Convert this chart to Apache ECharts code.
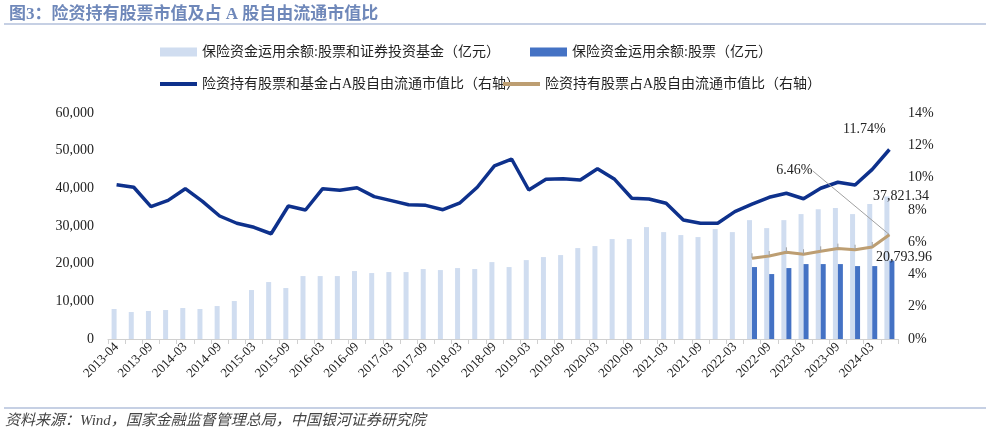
<!DOCTYPE html>
<html><head><meta charset="utf-8">
<script src="https://cdn.jsdelivr.net/npm/echarts@6/dist/echarts.min.js"></script>
<style>html,body{margin:0;padding:0;background:#fff}#c{width:990px;height:433px}</style>
</head><body><div id="c"></div>
<script>
// quarterly categories (first labelled as in source)
const categories = (function(){
  const out = ["2013-04"]; const ms=["03","06","09","12"];
  for (let y=2013;y<=2024;y++) for (const m of ms){ if(y===2013&&(m==="03")) continue; if(y===2024&&(m==="09"||m==="12")) continue; out.push(y+"-"+m); }
  return out;
})();
const stocksAndFunds = [7960,7160,7430,7690,8220,7960,8750,10080,13000,15120,13530,16710,16710,16710,18040,17510,17770,17770,18570,18300,18830,18570,20420,
  19100,20950,21750,22280,24140,24670,26530,26530,29710,28380,27590,27060,29180,28380,31560,29440,31560,33160,34480,34750,33160,35810,37821.34];
const stocksOnly = [null,null,null,null,null,null,null,null,null,null,null,null,null,null,null,null,null,null,null,null,null,null,null,null,null,null,null,null,null,null,null,null,null,null,null,null,null,
  19100,17240,18830,19890,19890,19890,19360,19360,20793.96];
const ratioStocksFunds = [9.56,9.40,8.20,8.59,9.31,8.53,7.62,7.17,6.92,6.52,8.24,7.99,9.31,9.21,9.37,8.82,8.57,8.32,8.28,8.01,8.44,9.40,10.72,
  11.15,9.23,9.89,9.93,9.85,10.55,9.89,8.72,8.67,8.41,7.37,7.17,7.17,7.89,8.35,8.78,9.03,8.69,9.34,9.71,9.54,10.51,11.74];
const ratioStocks = [null,null,null,null,null,null,null,null,null,null,null,null,null,null,null,null,null,null,null,null,null,null,null,null,null,null,null,null,null,null,null,null,null,null,null,null,null,
  5.00,5.14,5.37,5.25,5.43,5.60,5.53,5.70,6.46];
const names = ["保险资金运用余额:股票和证券投资基金（亿元）","保险资金运用余额:股票（亿元）","险资持有股票和基金占A股自由流通市值比（右轴）","险资持有股票占A股自由流通市值比（右轴）"];
const leftTicks = [0,10000,20000,30000,40000,50000,60000];

const serif = "'Liberation Serif','DejaVu Serif','Noto Sans CJK SC',serif";
const last = categories.length-1;
const fmtNum = v => v.toLocaleString('en-US',{minimumFractionDigits:2,maximumFractionDigits:2});
const chart = echarts.init(document.getElementById('c'));
const legendBase = {itemWidth:37,itemHeight:9,textStyle:{fontFamily:serif,fontSize:14,color:'#222'}};
chart.setOption({
  animation:false,
  textStyle:{fontFamily:serif},
  title:{text:'图3：险资持有股票市值及占 A 股自由流通市值比',left:4,top:1,textStyle:{fontFamily:serif,fontSize:17,fontWeight:'bold',color:'#6f88ba'}},
  graphic:[
    {type:'line',shape:{x1:4,y1:24,x2:986,y2:24},style:{stroke:'#8ea2c9',lineWidth:1.2}},
    {type:'line',shape:{x1:4,y1:408,x2:986,y2:408},style:{stroke:'#8ea2c9',lineWidth:1.2}},
    {type:'text',left:5,top:414,style:{text:'资料来源：Wind，国家金融监督管理总局，中国银河证券研究院',font:"italic 15px "+serif,fill:'#444'}}
  ],
  legend:[
    Object.assign({},legendBase,{left:155,top:40,data:[{name:names[0],icon:'rect'}]}),
    Object.assign({},legendBase,{left:525,top:40,data:[{name:names[1],icon:'rect'}]}),
    Object.assign({},legendBase,{left:155,top:72,itemHeight:4,data:[{name:names[2],icon:'rect'}]}),
    Object.assign({},legendBase,{left:498,top:72,itemHeight:4,data:[{name:names[3],icon:'rect'}]})
  ],
  grid:{left:108,right:92,top:113,bottom:94},
  xAxis:{type:'category',data:categories,boundaryGap:true,
    axisLine:{lineStyle:{color:'#d0d0d0'}},axisTick:{show:true,interval:0,lineStyle:{color:'#d0d0d0'}},
    axisLabel:{interval:1,rotate:45,fontSize:13,color:'#222',fontFamily:serif,margin:6}},
  yAxis:[
    {type:'value',min:leftTicks[0],max:leftTicks[leftTicks.length-1],interval:10000,splitLine:{show:false},
     axisLabel:{fontSize:14,color:'#222',fontFamily:serif,margin:14,formatter:v=>v.toLocaleString('en-US')}},
    {type:'value',min:0,max:14,interval:2,splitLine:{show:false},
     axisLabel:{fontSize:14,color:'#222',fontFamily:serif,margin:10,formatter:v=>v+'%'}}
  ],
  series:[
    {name:names[0],type:'bar',data:stocksAndFunds,barWidth:5,barGap:'0%',itemStyle:{color:'#d0ddf0'},
     label:{show:true,position:'top',offset:[14,12],fontSize:14,color:'#222',fontFamily:serif,
       formatter:p=>p.dataIndex===last?fmtNum(p.value):''}},
    {name:names[1],type:'bar',data:stocksOnly,barWidth:5,itemStyle:{color:'#4472c4'},
     label:{show:true,position:'top',offset:[12,9],fontSize:14,color:'#222',fontFamily:serif,
       formatter:p=>p.dataIndex===last?fmtNum(p.value):''}},
    {name:names[2],type:'line',yAxisIndex:1,data:ratioStocksFunds,symbol:'circle',symbolSize:0.01,showSymbol:true,lineStyle:{color:'#0e318c',width:3.5},itemStyle:{color:'#0e318c'},
     label:{show:true,position:'top',offset:[-25,-8],fontSize:14,color:'#222',fontFamily:serif,
       formatter:p=>p.dataIndex===last?p.value.toFixed(2)+'%':''}},
    {name:names[3],type:'line',yAxisIndex:1,data:ratioStocks,symbol:'circle',symbolSize:0.01,showSymbol:true,lineStyle:{color:'#bd9e72',width:3},itemStyle:{color:'#bd9e72'},
     label:{show:true,position:'top',fontSize:14,color:'#222',fontFamily:serif,
       formatter:p=>p.dataIndex===last?p.value.toFixed(2)+'%':''},
     labelLine:{show:true,lineStyle:{color:'#a0a0a0',width:1}},
     labelLayout:p=>p.dataIndex===last?{dx:-95,dy:-52}:{}}
  ]
});
</script></body></html>
